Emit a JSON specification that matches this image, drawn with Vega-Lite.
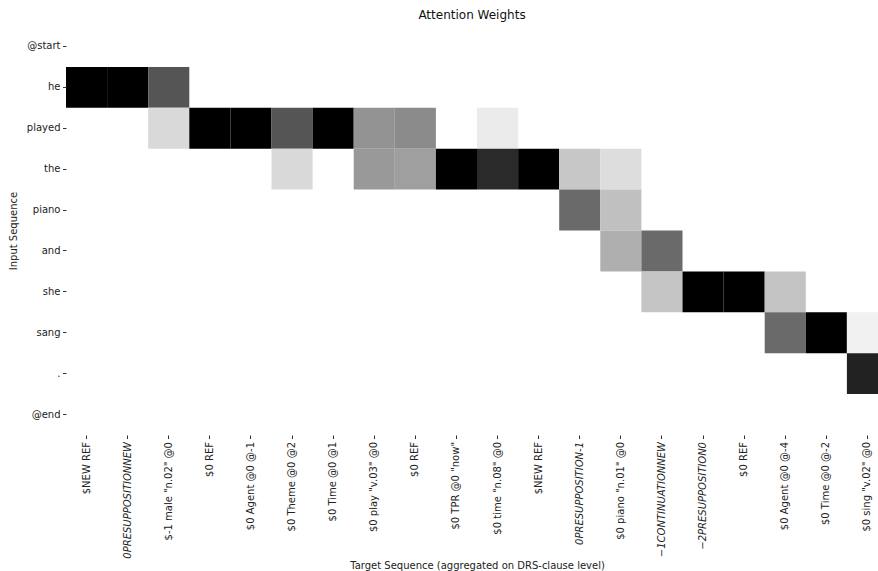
{
  "$schema": "https://vega.github.io/schema/vega-lite/v6.json",
  "background": "white",
  "padding": {"left": 8, "top": 9, "right": 0, "bottom": 0},
  "title": {
    "text": "Attention Weights",
    "font": "DejaVu Sans",
    "fontSize": 12,
    "fontWeight": "normal",
    "color": "#111",
    "anchor": "middle",
    "offset": 4
  },
  "width": 812,
  "height": 409,
  "data": {
    "values": [
      {"source": "he", "target": "$NEW REF|0", "weight": 1.0},
      {"source": "he", "target": "0PRESUPPOSITIONNEW|1", "weight": 1.0},
      {"source": "he", "target": "$-1 male \"n.02\" @0|2", "weight": 0.74},
      {"source": "played", "target": "$-1 male \"n.02\" @0|2", "weight": 0.25},
      {"source": "played", "target": "$0 REF|3", "weight": 1.0},
      {"source": "played", "target": "$0 Agent @0 @-1|4", "weight": 1.0},
      {"source": "played", "target": "$0 Theme @0 @2|5", "weight": 0.74},
      {"source": "played", "target": "$0 Time @0 @1|6", "weight": 1.0},
      {"source": "played", "target": "$0 play \"v.03\" @0|7", "weight": 0.51},
      {"source": "played", "target": "$0 REF|8", "weight": 0.54},
      {"source": "played", "target": "$0 time \"n.08\" @0|10", "weight": 0.15},
      {"source": "the", "target": "$0 Theme @0 @2|5", "weight": 0.25},
      {"source": "the", "target": "$0 play \"v.03\" @0|7", "weight": 0.49},
      {"source": "the", "target": "$0 REF|8", "weight": 0.47},
      {"source": "the", "target": "$0 TPR @0 \"now\"|9", "weight": 1.0},
      {"source": "the", "target": "$0 time \"n.08\" @0|10", "weight": 0.86},
      {"source": "the", "target": "$NEW REF|11", "weight": 1.0},
      {"source": "the", "target": "0PRESUPPOSITION-1|12", "weight": 0.33},
      {"source": "the", "target": "$0 piano \"n.01\" @0|13", "weight": 0.23},
      {"source": "piano", "target": "0PRESUPPOSITION-1|12", "weight": 0.66},
      {"source": "piano", "target": "$0 piano \"n.01\" @0|13", "weight": 0.36},
      {"source": "and", "target": "$0 piano \"n.01\" @0|13", "weight": 0.42},
      {"source": "and", "target": "−1CONTINUATIONNEW|14", "weight": 0.66},
      {"source": "she", "target": "−1CONTINUATIONNEW|14", "weight": 0.34},
      {"source": "she", "target": "−2PRESUPPOSITION0|15", "weight": 1.0},
      {"source": "she", "target": "$0 REF|16", "weight": 1.0},
      {"source": "she", "target": "$0 Agent @0 @-4|17", "weight": 0.35},
      {"source": "sang", "target": "$0 Agent @0 @-4|17", "weight": 0.66},
      {"source": "sang", "target": "$0 Time @0 @-2|18", "weight": 1.0},
      {"source": "sang", "target": "$0 sing \"v.02\" @0|19", "weight": 0.12},
      {"source": ".", "target": "$0 sing \"v.02\" @0|19", "weight": 0.89}
    ]
  },
  "mark": {"type": "rect", "clip": true},
  "encoding": {
    "x": {
      "field": "target",
      "type": "nominal",
      "sort": null,
      "scale": {
        "domain": [
          "$NEW REF|0", "0PRESUPPOSITIONNEW|1", "$-1 male \"n.02\" @0|2", "$0 REF|3",
          "$0 Agent @0 @-1|4", "$0 Theme @0 @2|5", "$0 Time @0 @1|6", "$0 play \"v.03\" @0|7",
          "$0 REF|8", "$0 TPR @0 \"now\"|9", "$0 time \"n.08\" @0|10", "$NEW REF|11",
          "0PRESUPPOSITION-1|12", "$0 piano \"n.01\" @0|13", "−1CONTINUATIONNEW|14", "−2PRESUPPOSITION0|15",
          "$0 REF|16", "$0 Agent @0 @-4|17", "$0 Time @0 @-2|18", "$0 sing \"v.02\" @0|19"
        ],
        "range": [0, 822],
        "paddingInner": 0,
        "paddingOuter": 0
      },
      "axis": {
        "title": "Target Sequence (aggregated on DRS-clause level)",
        "labelExpr": "split(datum.value, '|')[0]",
        "labelAngle": 270,
        "labelFontStyle": {
          "condition": {"test": "indexof(datum.value, 'PRESUPPOSITION') >= 0 || indexof(datum.value, 'CONTINUATION') >= 0", "value": "italic"},
          "value": "normal"
        },
        "labelPadding": 3,
        "titlePadding": 2
      }
    },
    "y": {
      "field": "source",
      "type": "nominal",
      "sort": null,
      "scale": {
        "domain": ["@start", "he", "played", "the", "piano", "and", "she", "sang", ".", "@end"],
        "paddingInner": 0,
        "paddingOuter": 0
      },
      "axis": {
        "title": "Input Sequence",
        "labelPadding": 2.5,
        "titlePadding": 8
      }
    },
    "color": {
      "field": "weight",
      "type": "quantitative",
      "scale": {
        "domain": [0, 0.125, 0.25, 0.375, 0.5, 0.625, 0.75, 0.875, 1],
        "range": ["#ffffff", "#f0f0f0", "#d9d9d9", "#bdbdbd", "#969696", "#737373", "#525252", "#252525", "#000000"]
      },
      "legend": null
    }
  },
  "config": {
    "view": {"stroke": null},
    "axis": {
      "domain": false,
      "grid": false,
      "ticks": true,
      "tickSize": 3.5,
      "tickColor": "#333",
      "tickWidth": 1,
      "labelFont": "DejaVu Sans",
      "labelFontSize": 10,
      "labelColor": "#222",
      "labelOverlap": false,
      "labelLimit": 0,
      "titleFont": "DejaVu Sans",
      "titleFontSize": 10,
      "titleFontWeight": "normal",
      "titleColor": "#222"
    }
  }
}
